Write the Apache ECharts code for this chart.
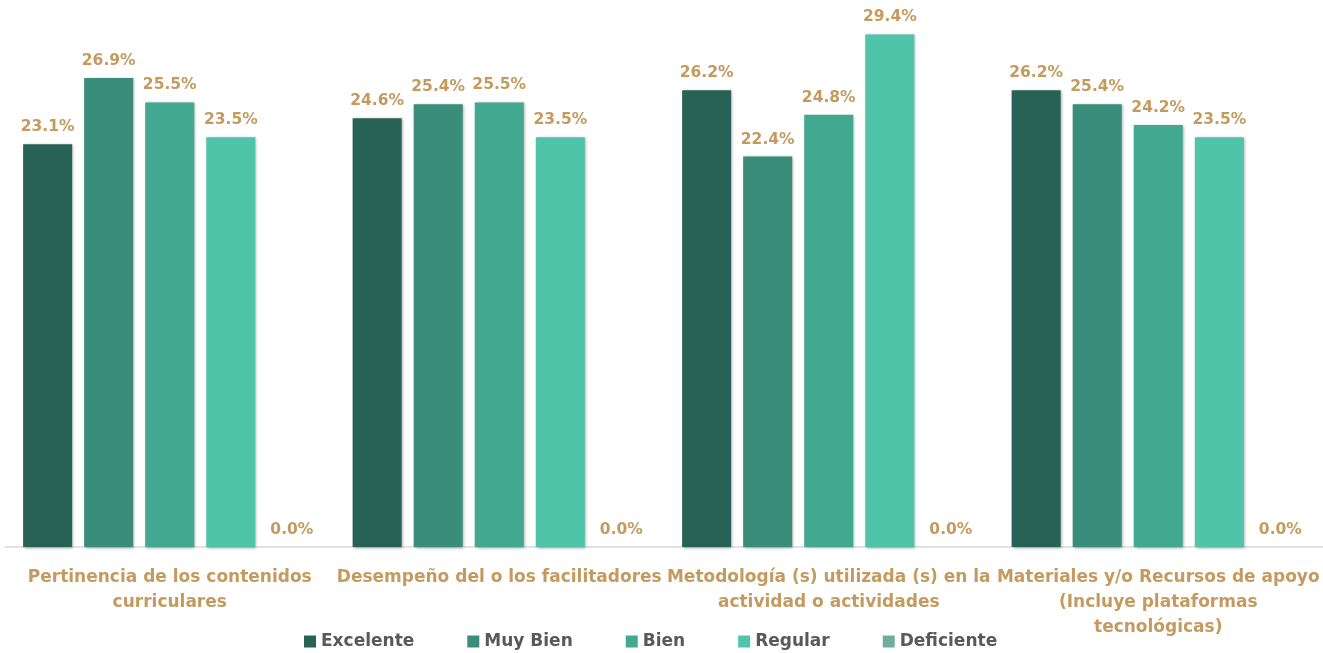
<!DOCTYPE html>
<html>
<head>
<meta charset="utf-8">
<script src="https://cdn.jsdelivr.net/npm/echarts@6/dist/echarts.min.js"></script>
<style>
  html, body { margin: 0; padding: 0; background: #fff; }
  #main { width: 1323px; height: 653px; }
</style>
</head>
<body>
<div id="main"></div>
<script>
var categories = [
    'Pertinencia de los contenidos\ncurriculares',
    'Desempeño del o los facilitadores',
    'Metodología (s) utilizada (s) en la\nactividad o actividades',
    'Materiales y/o Recursos de apoyo\n(Incluye plataformas\ntecnológicas)'
];
var seriesNames = ['Excelente', 'Muy Bien', 'Bien', 'Regular', 'Deficiente'];
var excelente = [23.1, 24.6, 26.2, 26.2];
var muyBien = [26.9, 25.4, 22.4, 25.4];
var bien = [25.5, 25.5, 24.8, 24.2];
var regular = [23.5, 23.5, 29.4, 23.5];
var deficiente = [0, 0, 0, 0];

var colors = ['#276254', '#3a8c7b', '#43a890', '#50c4a8', '#6fae9c'];
var labelColor = '#c49a5f';
var fontFam = '"DejaVu Sans", sans-serif';

var dom = document.getElementById('main');
var myChart = echarts.init(dom);

function makeSeries(name, data, i) {
    return {
        name: name,
        type: 'bar',
        data: data,
        barGap: '24.5%',
        barCategoryGap: '11%',
        itemStyle: {
            color: colors[i],
            shadowColor: 'rgba(0,0,0,0.35)',
            shadowBlur: 3,
            shadowOffsetX: 1,
            shadowOffsetY: 1
        },
        label: {
            show: true,
            position: 'top',
            distance: 9,
            color: labelColor,
            fontWeight: 'bold',
            fontSize: 15.5,
            fontFamily: fontFam,
            formatter: function (p) { return p.value.toFixed(1) + '%'; }
        }
    };
}

var allData = [excelente, muyBien, bien, regular, deficiente];

var option = {
    animation: false,
    color: colors,
    legend: {
        data: seriesNames,
        bottom: -2,
        left: 299,
        itemWidth: 12,
        itemHeight: 12,
        itemGap: 53,
        icon: 'rect',
        textStyle: {
            color: '#595959',
            fontWeight: 'bold',
            fontSize: 17,
            fontFamily: fontFam
        }
    },
    grid: {
        left: 5,
        right: 0,
        top: 24,
        bottom: 106,
        containLabel: false
    },
    xAxis: {
        type: 'category',
        data: categories,
        axisTick: { show: false },
        axisLine: { lineStyle: { color: '#d9d9d9', width: 1.5 } },
        axisLabel: {
            interval: 0,
            margin: 18,
            color: labelColor,
            fontWeight: 'bold',
            fontSize: 17,
            lineHeight: 25,
            fontFamily: fontFam
        }
    },
    yAxis: {
        type: 'value',
        min: 0,
        max: 30,
        show: false,
        splitLine: { show: false }
    },
    series: seriesNames.map(function (n, i) { return makeSeries(n, allData[i], i); })
};

myChart.setOption(option, true);
</script>
</body>
</html>
